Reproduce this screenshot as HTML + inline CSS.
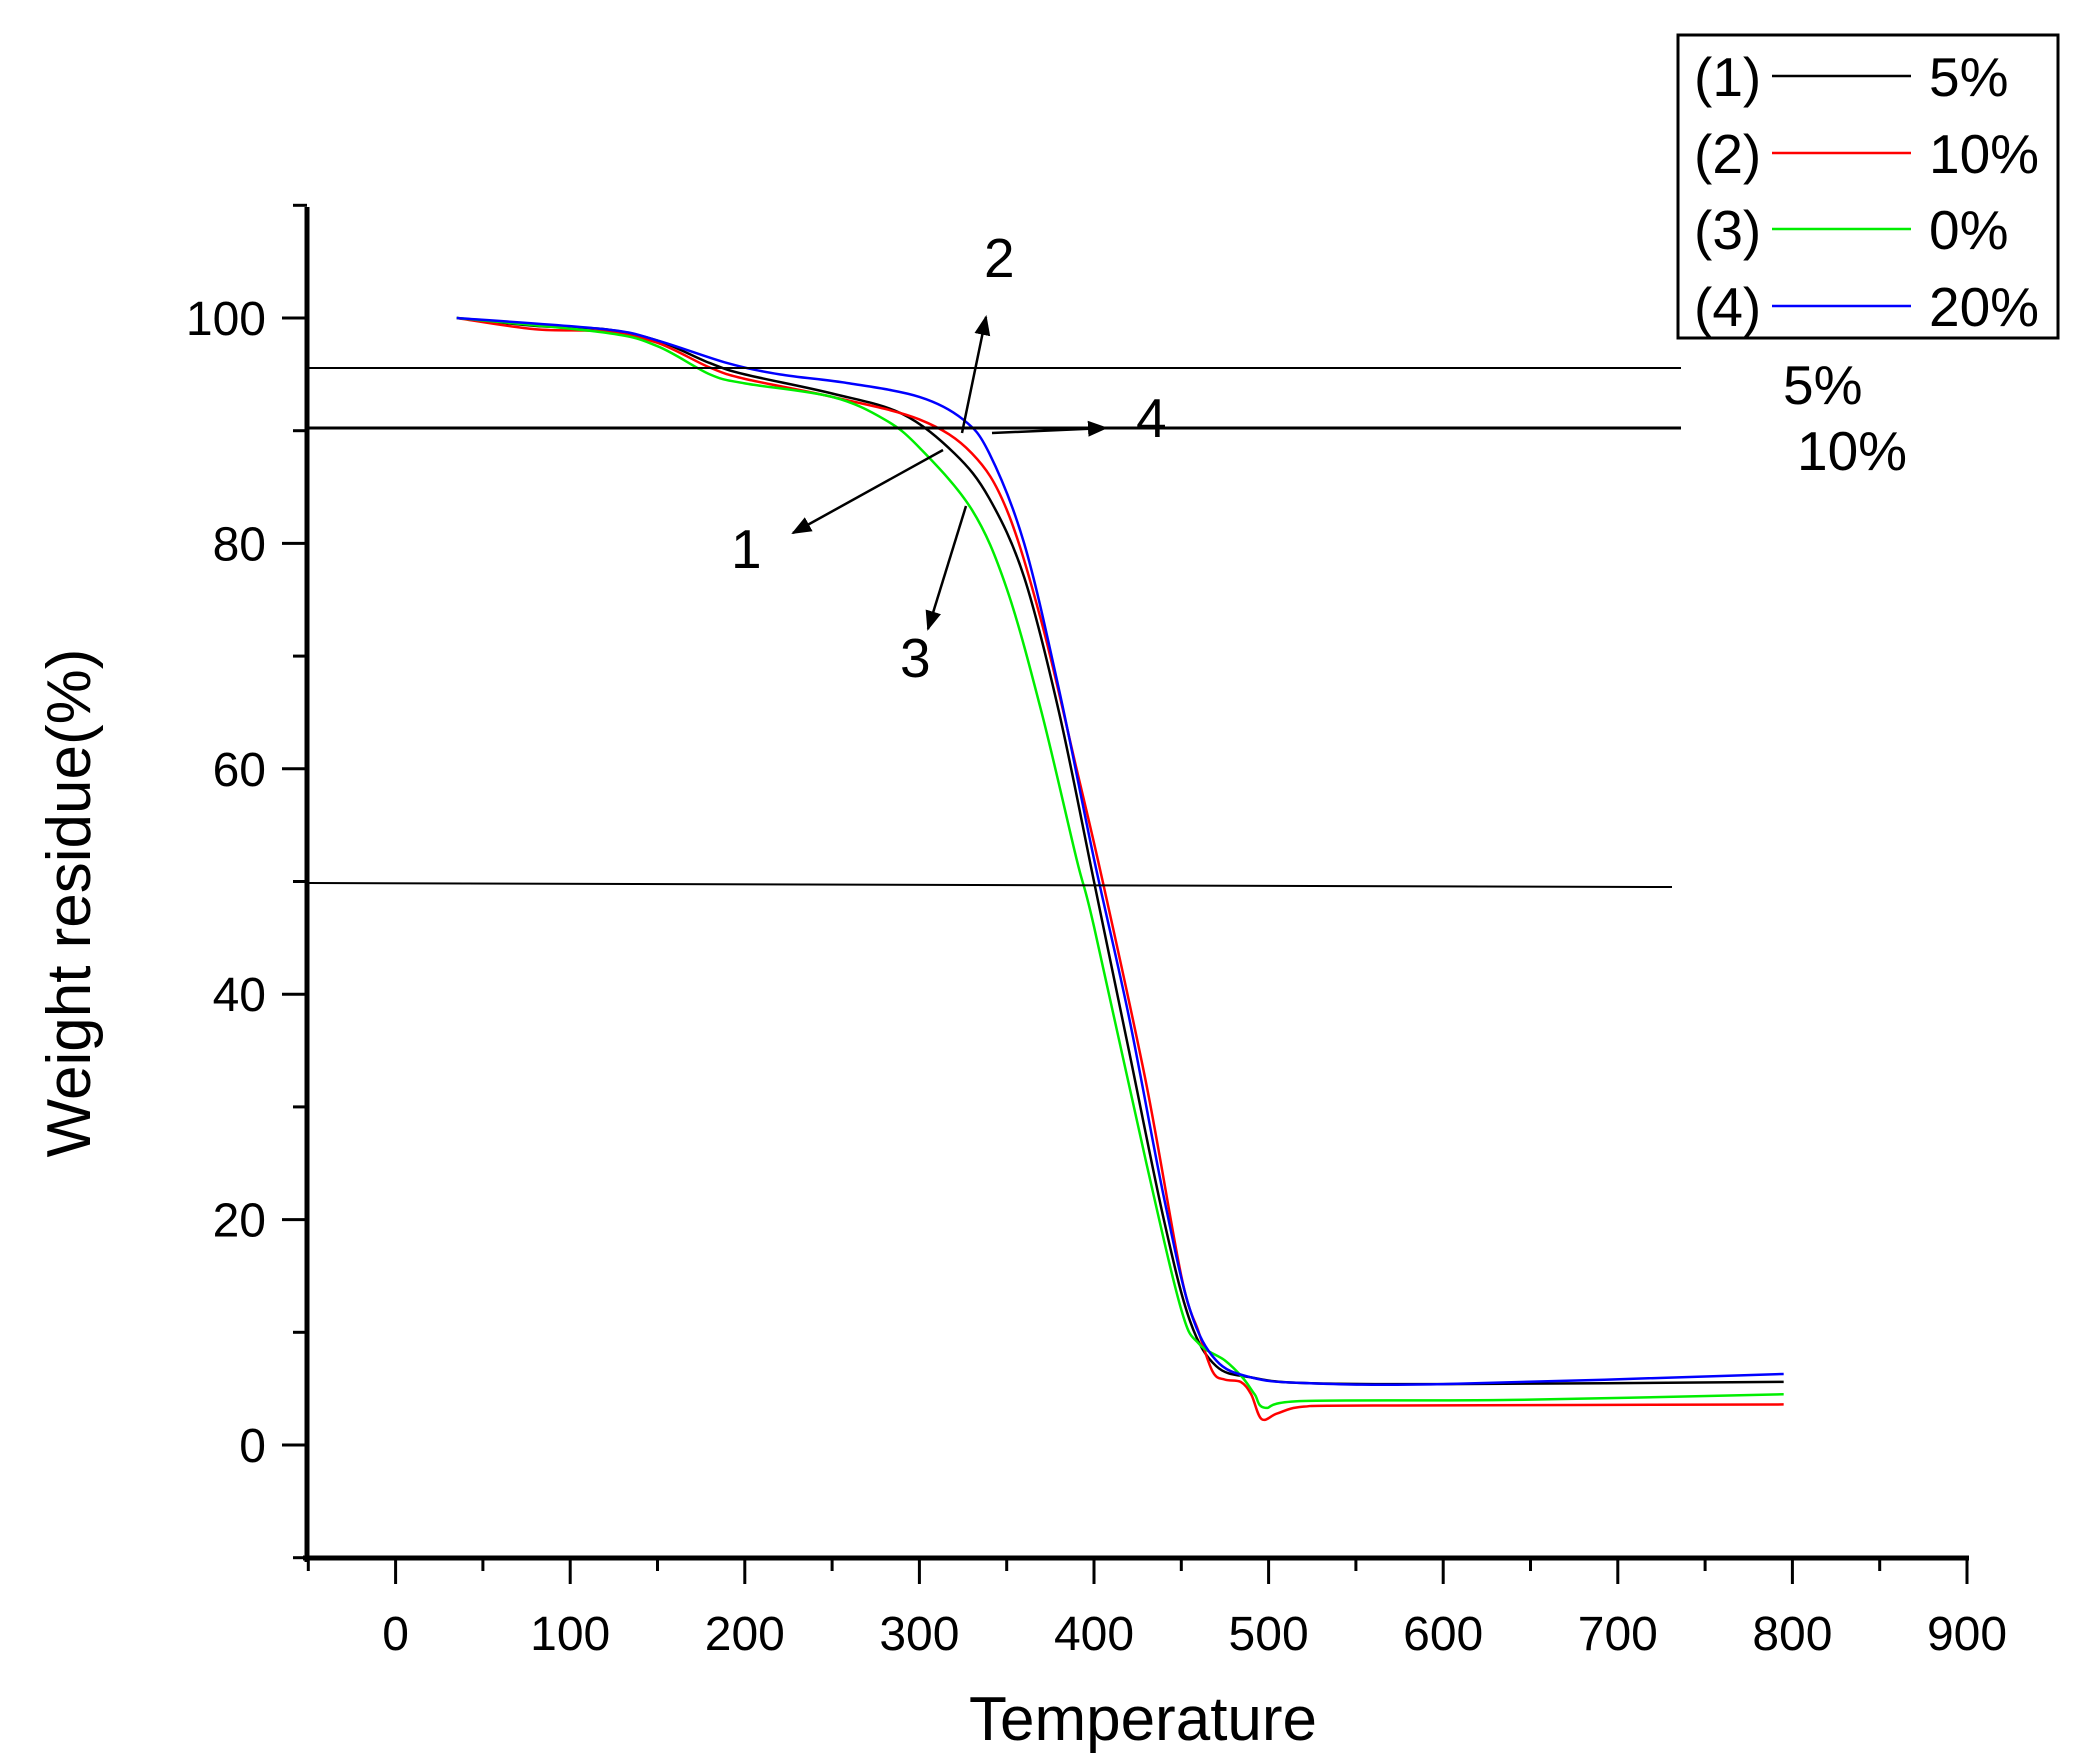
<!DOCTYPE html>
<html><head><meta charset="utf-8"><style>
html,body{margin:0;padding:0;background:#fff;}
svg{display:block;font-family:"Liberation Sans",Arial,sans-serif;}
</style></head><body>
<svg id="s" width="2078" height="1756" viewBox="0 0 2078 1756" xmlns="http://www.w3.org/2000/svg">
<defs><marker id="ah" viewBox="0 0 10 10" refX="9" refY="5" markerWidth="8" markerHeight="8" orient="auto"><path d="M0,1 L10,5 L0,9 z" fill="#000"/></marker></defs>
<g id="g"></g>
<line x1="307" y1="207" x2="307" y2="1562" stroke="#000" stroke-width="5"/>
<line x1="303" y1="1558" x2="1969" y2="1558" stroke="#000" stroke-width="5"/>
<g id="ticks" stroke="#000" stroke-width="3"></g>
<g font-size="48" fill="#000" id="lbl"></g>
<text x="1143" y="1740" font-size="62" text-anchor="middle">Temperature</text>
<text transform="translate(90,903) rotate(-90)" font-size="62" text-anchor="middle">Weight residue(%)</text>
<line x1="309" y1="368" x2="1681" y2="368" stroke="#000" stroke-width="2"/>
<line x1="309" y1="428" x2="1681" y2="428" stroke="#000" stroke-width="3"/>
<line x1="309" y1="883" x2="1672" y2="887" stroke="#000" stroke-width="2"/>
<g stroke="#000" stroke-width="2.5" marker-end="url(#ah)">
<line x1="962" y1="433" x2="986" y2="317"/>
<line x1="992" y1="433" x2="1106" y2="428"/>
<line x1="943" y1="450" x2="793" y2="533"/>
<line x1="966" y1="506" x2="928" y2="629"/>
</g>
<g font-size="55" fill="#000">
<text x="984" y="277">2</text>
<text x="1136" y="437">4</text>
<text x="731" y="568">1</text>
<text x="900" y="677">3</text>
<text x="1783" y="404">5%</text>
<text x="1797" y="470">10%</text>
</g>
<rect x="1678" y="35" width="380" height="303" fill="#fff" stroke="#000" stroke-width="3"/>
<g font-size="55" fill="#000">
<text x="1694" y="96">(1)</text><text x="1929" y="96">5%</text>
<text x="1694" y="173">(2)</text><text x="1929" y="173">10%</text>
<text x="1694" y="249">(3)</text><text x="1929" y="249">0%</text>
<text x="1694" y="326">(4)</text><text x="1929" y="326">20%</text>
</g>
<line x1="1772" y1="76" x2="1911" y2="76" stroke="#000" stroke-width="2.5"/>
<line x1="1772" y1="153" x2="1911" y2="153" stroke="#f00" stroke-width="2.5"/>
<line x1="1772" y1="229" x2="1911" y2="229" stroke="#0e0" stroke-width="2.5"/>
<line x1="1772" y1="306" x2="1911" y2="306" stroke="#00f" stroke-width="2.5"/>
</svg>
<script>
const X=t=>395.6+1.746*t, Y=v=>1445-11.27*v;
const ns="http://www.w3.org/2000/svg";
const tk=document.getElementById('ticks'), lb=document.getElementById('lbl');
function add(p,tag,a,txt){const e=document.createElementNS(ns,tag);for(const k in a)e.setAttribute(k,a[k]);if(txt!=null)e.textContent=txt;p.appendChild(e);return e;}
for(let t=-50;t<=900;t+=50){const x=X(t);const major=t%100===0;add(tk,'line',{x1:x,y1:1558,x2:x,y2:major?1584:1571});if(major)add(lb,'text',{x:x,y:1650,'text-anchor':'middle'},t);}
for(let v=-10;v<=110;v+=10){const y=Y(v);const major=v%20===0;add(tk,'line',{x1:307,y1:y,x2:major?282:293,y2:y});if(major&&v>=0&&v<=100)add(lb,'text',{x:266,y:y+17,'text-anchor':'end'},v);}
const S={
"#000":[[35,100],[80,99.3],[120,99],[150,98],[180,96],[200,95],[250,93.3],[290,91.5],[320,88],[340,84],[360,77],[380,65],[400,50],[420,35],[440,20],[455,11],[470,7],[490,6],[520,5.5],[600,5.4],[795,5.6]],
"#f00":[[35,100],[80,99],[120,98.8],[150,97.8],[180,95.6],[200,94.6],[250,93],[300,91],[330,88],[350,83],[370,73],[390,60],[405,50],[430,32],[450,15],[460,10],[468,6.5],[475,5.8],[484,5.6],[490,4.5],[496,2.3],[505,2.8],[520,3.4],[560,3.5],[795,3.6]],
"#0e0":[[35,100],[120,98.7],[150,97.5],[180,95],[200,94.2],[250,93],[280,91],[300,88.5],[330,83],[350,76],[370,65],[390,52],[400,46],[430,25],[450,12],[460,9],[475,7.5],[485,6],[492,4.5],[498,3.3],[520,3.9],[640,4],[795,4.5]],
"#00f":[[35,100],[120,99],[150,98],[190,96],[220,95],[260,94.2],[300,93],[325,91],[340,88],[360,80],[380,67],[400,52],[420,38],[440,22],[455,12],[470,7.5],[490,6],[520,5.5],[600,5.4],[795,6.3]]};
const g=document.getElementById('g');
for(const c in S){const p=S[c].map(([t,v])=>[X(t),Y(v)]);let d=`M${p[0][0]},${p[0][1]}`;
for(let i=0;i<p.length-1;i++){const p0=p[Math.max(0,i-1)],p1=p[i],p2=p[i+1],p3=p[Math.min(p.length-1,i+2)];
d+=` C${p1[0]+(p2[0]-p0[0])/6},${p1[1]+(p2[1]-p0[1])/6} ${p2[0]-(p3[0]-p1[0])/6},${p2[1]-(p3[1]-p1[1])/6} ${p2[0]},${p2[1]}`;}
add(g,'path',{d:d,fill:'none',stroke:c,'stroke-width':2.5});}
</script>
</body></html>
